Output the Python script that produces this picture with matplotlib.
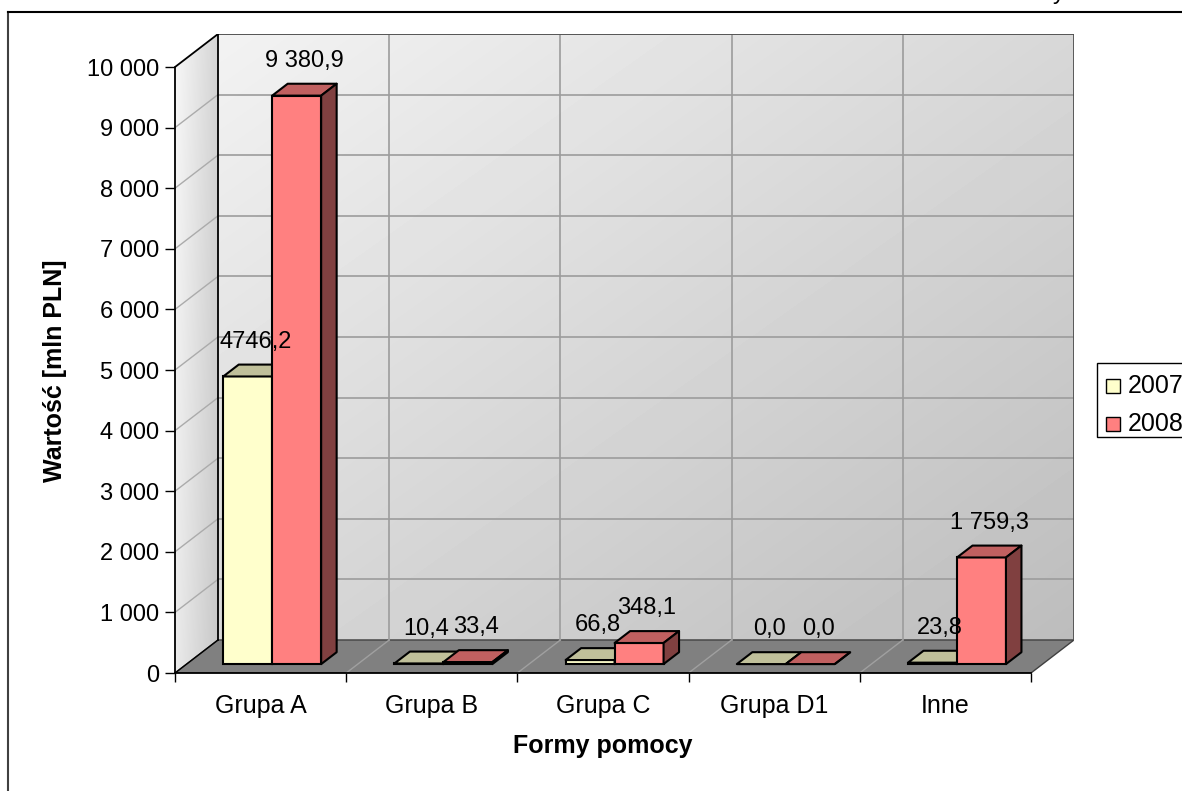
import matplotlib
matplotlib.use("Agg")
import matplotlib.pyplot as plt
import numpy as np
from matplotlib.patches import Polygon, Rectangle
from matplotlib.ticker import FuncFormatter, FixedLocator

plt.rcParams['font.family'] = ['Liberation Sans', 'DejaVu Sans']

# ---------------- data ----------------
categories = ["Grupa A", "Grupa B", "Grupa C", "Grupa D1", "Inne"]
series_names = ["2007", "2008"]
values_2007 = [4746.2, 10.4, 66.8, 0.0, 23.8]
values_2008 = [9380.9, 33.4, 348.1, 0.0, 1759.3]
labels_2007 = ["4746,2", "10,4", "66,8", "0,0", "23,8"]
labels_2008 = ["9 380,9", "33,4", "348,1", "0,0", "1 759,3"]
y_ticks = [0, 1000, 2000, 3000, 4000, 5000, 6000, 7000, 8000, 9000, 10000]
x_title = "Formy pomocy"
y_title = "Wartość [mln PLN]"

# ---------------- style ----------------
W, H = 1182, 791
front_colors = ["#FFFFCC", "#FF8080"]
top_colors = ["#C0C09A", "#C06060"]
side_colors = ["#80806A", "#804040"]
FS = 17
FSC = 18
FSB = 18

fig = plt.figure(figsize=(W / 100, H / 100), dpi=100)
ax = fig.add_axes([175 / W, 118 / H, 899 / W, 639 / H])

n = len(categories)
DX = 0.2512      # depth offset in category units
DY = 545.0       # depth offset in value units
F1, F2 = 0.27, 0.63
BW = 0.286
YMAX = y_ticks[-1]

# back wall gradient
u = np.linspace(0, 1, 200)[None, :]
v = np.linspace(1, 0, 200)[:, None]
t = 0.5 * (u + (1 - v))
back = 0.95 - 0.21 * t
ax.imshow(back, extent=(DX, n + DX, DY, YMAX + DY), aspect='auto', cmap='gray',
          vmin=0, vmax=1, origin='upper', interpolation='bilinear', zorder=0)

# side wall gradient
side = 0.97 - 0.14 * u - 0.05 * (1 - v)
side = np.broadcast_to(side, (200, 200))
im = ax.imshow(side, extent=(0, DX, 0, YMAX + DY), aspect='auto', cmap='gray',
               vmin=0, vmax=1, origin='upper', interpolation='bilinear', zorder=0)
side_poly = Polygon([(0, 0), (DX, DY), (DX, YMAX + DY), (0, YMAX)], closed=True,
                    facecolor='none', edgecolor='none', transform=ax.transData)
ax.add_patch(side_poly)
im.set_clip_path(side_poly)

# floor
floor = Polygon([(0, 0), (n, 0), (n + DX, DY), (DX, DY)], closed=True,
                facecolor='#808080', edgecolor='#404040', lw=1.0, zorder=1)
ax.add_patch(floor)

# grid lines on back wall
for yt in y_ticks[1:]:
    ax.plot([DX, n + DX], [yt + DY, yt + DY], color='#9c9c9c', lw=1.2, zorder=1)
    if yt < YMAX:
        ax.plot([0, DX], [yt, yt + DY], color='#ababab', lw=1.0, zorder=1)
for i in range(1, n):
    ax.plot([i + DX, i + DX], [DY, YMAX + DY], color='#9c9c9c', lw=1.2, zorder=1)
    ax.plot([i, i + DX], [0, DY], color='#a0a0a0', lw=1.0, zorder=1)

# wall outlines
ax.plot([DX, n + DX, n + DX], [YMAX + DY, YMAX + DY, DY], color='#505050', lw=1.3, zorder=2)
ax.plot([DX, DX], [DY, YMAX + DY], color='black', lw=1.3, zorder=2)
ax.plot([0, DX], [YMAX, YMAX + DY], color='black', lw=1.3, zorder=2)
ax.plot([0, DX], [0, DY], color='black', lw=1.0, zorder=2)

# bars
series_vals = [values_2007, values_2008]
series_labels = [labels_2007, labels_2008]
z = 3
for i in range(n):
    for s in range(2):
        val = series_vals[s][i]
        x0 = i + 0.5 - BW + s * BW
        fx, fy = x0 + F1 * DX, F1 * DY
        bx, by = x0 + F2 * DX, F2 * DY
        ax.bar(fx, val, width=BW, bottom=fy, align='edge', color=front_colors[s],
               edgecolor='black', lw=1.5, zorder=z)
        top = Polygon([(fx, val + fy), (fx + BW, val + fy), (bx + BW, val + by), (bx, val + by)],
                      closed=True, facecolor=top_colors[s], edgecolor='black', lw=1.5,
                      zorder=z + 0.1, joinstyle='round')
        ax.add_patch(top)
        sd = Polygon([(fx + BW, fy), (fx + BW, val + fy), (bx + BW, val + by), (bx + BW, by)],
                     closed=True, facecolor=side_colors[s], edgecolor='black', lw=1.5,
                     zorder=z + 0.2, joinstyle='round')
        ax.add_patch(sd)
        ax.annotate(series_labels[s][i], xy=(x0 + BW / 2 + 0.5 * (F1 + F2) * DX, val + fy),
                    xytext=(0, 25), textcoords='offset points', ha='center', va='center',
                    fontsize=FS, zorder=20)
        z += 1

# axes
ax.set_xlim(0, n + DX)
ax.set_ylim(0, YMAX + DY)
for sp in ['top', 'right']:
    ax.spines[sp].set_visible(False)
ax.spines['left'].set_bounds(0, YMAX)
ax.spines['bottom'].set_bounds(0, n)
ax.spines['left'].set_zorder(2.5)
ax.spines['bottom'].set_zorder(2.5)
ax.spines['left'].set_linewidth(1.3)
ax.spines['bottom'].set_linewidth(1.3)

ax.yaxis.set_major_locator(FixedLocator(y_ticks))
ax.yaxis.set_major_formatter(FuncFormatter(lambda val, _: f"{int(round(val)):,}".replace(",", " ")))
ax.tick_params(axis='y', which='major', direction='out', length=7.2, width=1.0,
               pad=4.3, labelsize=FS)

ax.xaxis.set_major_locator(FixedLocator(list(range(n + 1))))
ax.xaxis.set_major_formatter(FuncFormatter(lambda val, _: ""))
ax.xaxis.set_minor_locator(FixedLocator([i + 0.5 for i in range(n)]))
ax.set_xticklabels(categories, minor=True)
ax.tick_params(axis='x', which='major', direction='out', length=6.5, width=1.0)
ax.tick_params(axis='x', which='minor', length=0, pad=15, labelsize=FSC)

# axis titles
fig.text(603 / W, 1 - 746 / H, x_title, ha='center', va='center', fontsize=FSB, fontweight='bold')
fig.text(55 / W, 1 - 371 / H, y_title, ha='center', va='center', fontsize=FSB,
         fontweight='bold', rotation=90)

# legend (manual, clipped at the figure edge)
def px(x, y):
    return (x / W, 1 - y / H)

fig.patches.append(Rectangle(px(1097, 437), 100 / W, 74 / H, transform=fig.transFigure,
                             facecolor='white', edgecolor='black', lw=1.0))
for s, (name, yc) in enumerate(zip(series_names, [386, 424])):
    fig.patches.append(Rectangle(px(1106, yc + 7), 14 / W, 14 / H, transform=fig.transFigure,
                                 facecolor=front_colors[s], edgecolor='black', lw=1.0))
    fig.text(1128 / W, 1 - yc / H, name, ha='left', va='center', fontsize=FSC)

# outer chart frame (cropped)
fig.add_artist(plt.Line2D([8 / W, 8 / W], [0, 1 - 12 / H], transform=fig.transFigure,
                          color='#404040', lw=1.5))
fig.add_artist(plt.Line2D([8 / W, 1], [1 - 12 / H, 1 - 12 / H], transform=fig.transFigure,
                          color='black', lw=1.5))
fig.text(1053 / W, 1 + 1 / H, "y", ha='left', va='baseline', fontsize=FS)

fig.savefig("out.png", dpi=100)
